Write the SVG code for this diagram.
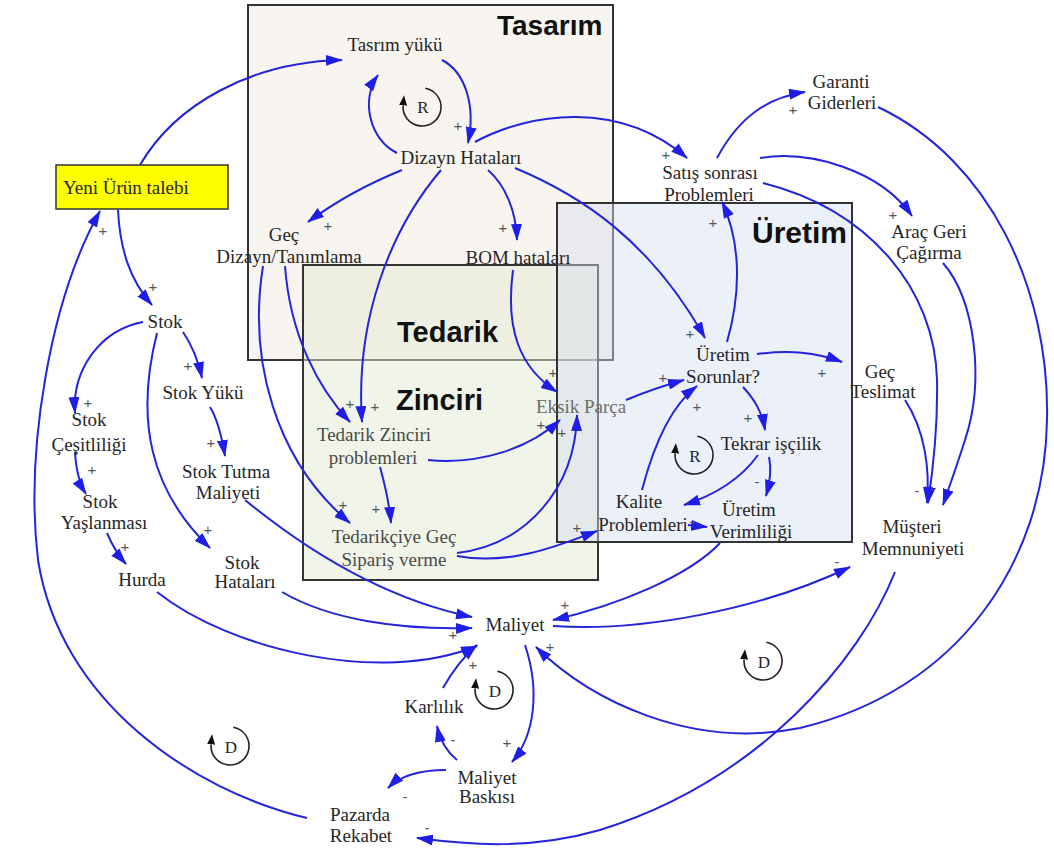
<svg xmlns="http://www.w3.org/2000/svg" width="1054" height="852" viewBox="0 0 1054 852">
  <defs>
    <style>
      .region { stroke: #333; stroke-width: 2; }
      .title { font-family: "Liberation Sans", Arial, sans-serif; font-weight: bold; fill: #111; }
      .node { font-family: "Liberation Serif", "Times New Roman", serif; font-size: 19px; fill: #262626; text-anchor: middle; }
      .node.supply { fill: #4a4a4a; }
      .node.faint { fill: #6e6e6e; }
      .link { fill: none; stroke: #2424dc; stroke-width: 2; marker-end: url(#arrow); }
      .sign { font-family: "Liberation Sans", Arial, sans-serif; font-size: 15px; fill: #555; text-anchor: middle; }
      .loop { fill: none; stroke: #222; stroke-width: 1.6; marker-end: url(#loopArrow); }
      .loopLabel { font-family: "Liberation Serif", "Times New Roman", serif; font-size: 17px; fill: #222; text-anchor: middle; }
    </style>
    <marker id="arrow" markerUnits="userSpaceOnUse" markerWidth="17" markerHeight="11" refX="16" refY="5.5" orient="auto">
      <path d="M0,0 L17,5.5 L0,11 z" fill="#1e1ee6"/>
    </marker>
    <marker id="loopArrow" markerUnits="userSpaceOnUse" markerWidth="10" markerHeight="8" refX="0" refY="4" orient="auto">
      <path d="M0,0 L10,4 L0,8 z" fill="#111"/>
    </marker>
  </defs>

  <!-- functional regions -->
  <g id="regions">
    <rect class="region" x="248" y="5" width="365" height="355" fill="#f8f5f1"/>
    <rect class="region" x="303" y="265" width="295" height="315" fill="rgb(228,234,210)" fill-opacity="0.5"/>
    <rect class="region" x="557" y="203" width="295" height="339" fill="rgb(212,222,240)" fill-opacity="0.45"/>
    <text class="title" x="497" y="35" font-size="28">Tasarım</text>
    <text class="title" x="397" y="342" font-size="29">Tedarik</text>
    <text class="title" x="396" y="410" font-size="29">Zinciri</text>
    <text class="title" x="752" y="243" font-size="30">Üretim</text>
  </g>

  <!-- causal links -->
  <g id="connectors">
    <path class="link" d="M140,165 C175,105 250,62 342,60"/>
    <path class="link" d="M442,60 C465,72 476,105 468,143"/>
    <path class="link" d="M397,153 C370,140 360,100 378,75"/>
    <path class="link" d="M402,170 C365,185 335,202 308,222"/>
    <path class="link" d="M488,170 C505,185 516,210 517,240"/>
    <path class="link" d="M441,170 C390,230 355,320 362,422"/>
    <path class="link" d="M285,266 C290,335 318,388 350,422"/>
    <path class="link" d="M263,266 C248,360 275,460 350,523"/>
    <path class="link" d="M475,142 C530,112 620,100 687,158"/>
    <path class="link" d="M515,168 C580,195 650,240 705,338"/>
    <path class="link" d="M513,270 C505,330 520,368 557,392"/>
    <path class="link" d="M428,460 C480,465 530,448 560,420"/>
    <path class="link" d="M380,467 C385,485 389,500 391,523"/>
    <path class="link" d="M457,553 C525,545 575,490 577,415"/>
    <path class="link" d="M457,556 C510,566 560,545 597,531"/>
    <path class="link" d="M626,400 C645,392 662,386 684,380"/>
    <path class="link" d="M727,342 C742,290 740,240 722,202"/>
    <path class="link" d="M757,354 C790,350 815,352 842,362"/>
    <path class="link" d="M743,387 C755,400 762,412 765,430"/>
    <path class="link" d="M642,490 C655,440 672,405 697,386"/>
    <path class="link" d="M758,455 C740,480 715,495 684,505"/>
    <path class="link" d="M769,457 C772,470 770,482 766,496"/>
    <path class="link" d="M688,525 L707,527"/>
    <path class="link" d="M720,543 C690,575 620,605 553,620"/>
    <path class="link" d="M553,626 C640,632 760,610 850,567"/>
    <path class="link" d="M878,107 C990,160 1050,290 1047,420 C1045,560 960,690 800,728 C690,750 590,700 536,647"/>
    <path class="link" d="M895,572 C860,660 760,780 600,830 C530,850 470,845 417,838"/>
    <path class="link" d="M307,818 C190,790 60,700 38,560 C25,450 50,300 100,211"/>
    <path class="link" d="M118,210 C120,250 130,280 152,305"/>
    <path class="link" d="M183,332 C192,345 198,360 202,378"/>
    <path class="link" d="M143,322 C100,330 72,370 75,413"/>
    <path class="link" d="M157,333 C135,420 150,490 210,548"/>
    <path class="link" d="M210,407 C218,420 222,438 225,456"/>
    <path class="link" d="M75,452 C76,470 79,483 86,494"/>
    <path class="link" d="M107,533 C112,545 118,555 126,564"/>
    <path class="link" d="M157,592 C230,650 380,685 477,646"/>
    <path class="link" d="M282,592 C330,620 400,630 472,628"/>
    <path class="link" d="M245,500 C300,545 380,598 472,617"/>
    <path class="link" d="M443,688 C452,672 463,657 477,645"/>
    <path class="link" d="M525,645 C540,690 535,735 512,762"/>
    <path class="link" d="M457,760 C447,752 440,740 437,726"/>
    <path class="link" d="M446,770 C420,770 400,776 388,788"/>
    <path class="link" d="M717,158 C740,115 770,97 805,92"/>
    <path class="link" d="M760,158 C810,150 880,170 912,216"/>
    <path class="link" d="M763,183 C870,210 935,290 937,380 C938,430 933,470 928,503"/>
    <path class="link" d="M905,400 C925,430 930,470 927,503"/>
    <path class="link" d="M943,263 C975,300 985,380 965,440 C957,465 950,485 943,505"/>
  </g>

  <!-- link polarities -->
  <g id="polarities">
    <text class="sign" x="458" y="131">+</text>
    <text class="sign" x="328" y="231">+</text>
    <text class="sign" x="503" y="233">+</text>
    <text class="sign" x="666" y="160">+</text>
    <text class="sign" x="713" y="228">+</text>
    <text class="sign" x="690" y="339">+</text>
    <text class="sign" x="793" y="115">+</text>
    <text class="sign" x="893" y="220">+</text>
    <text class="sign" x="350" y="409">+</text>
    <text class="sign" x="375" y="412">+</text>
    <text class="sign" x="553" y="378">+</text>
    <text class="sign" x="541" y="430">+</text>
    <text class="sign" x="562" y="438">+</text>
    <text class="sign" x="343" y="510">+</text>
    <text class="sign" x="376" y="514">+</text>
    <text class="sign" x="577" y="533">+</text>
    <text class="sign" x="663" y="383">+</text>
    <text class="sign" x="822" y="378">+</text>
    <text class="sign" x="697" y="412">+</text>
    <text class="sign" x="748" y="423">+</text>
    <text class="sign" x="757" y="487">-</text>
    <text class="sign" x="692" y="527">-</text>
    <text class="sign" x="103" y="236">+</text>
    <text class="sign" x="153" y="292">+</text>
    <text class="sign" x="188" y="371">+</text>
    <text class="sign" x="88" y="408">+</text>
    <text class="sign" x="211" y="448">+</text>
    <text class="sign" x="92" y="475">+</text>
    <text class="sign" x="125" y="552">+</text>
    <text class="sign" x="208" y="535">+</text>
    <text class="sign" x="453" y="640">+</text>
    <text class="sign" x="473" y="670">+</text>
    <text class="sign" x="453" y="745">-</text>
    <text class="sign" x="507" y="748">+</text>
    <text class="sign" x="405" y="802">-</text>
    <text class="sign" x="427" y="833">-</text>
    <text class="sign" x="565" y="610">+</text>
    <text class="sign" x="550" y="652" fill="#5555dd">+</text>
    <text class="sign" x="837" y="567">-</text>
    <text class="sign" x="917" y="496" font-size="18">-</text>
    <text class="sign" x="933" y="494" font-size="18">-</text>
  </g>

  <!-- loop identifiers -->
  <g id="loops">
    <g id="loop-r1">
      <path class="loop" d="M425.3,88.3 A19,19 0 1 1 403.1,105.3"/>
      <text class="loopLabel" x="423" y="113">R</text>
    </g>
    <g id="loop-r2">
      <path class="loop" d="M697.3,436.3 A19,19 0 1 1 675.1,453.3"/>
      <text class="loopLabel" x="695" y="462">R</text>
    </g>
    <g id="loop-d1">
      <path class="loop" d="M497.3,671.3 A19,19 0 1 1 475.1,688.3"/>
      <text class="loopLabel" x="495" y="697">D</text>
    </g>
    <g id="loop-d2">
      <path class="loop" d="M233.3,727.3 A19,19 0 1 1 211.1,744.3"/>
      <text class="loopLabel" x="231" y="753">D</text>
    </g>
    <g id="loop-d3">
      <path class="loop" d="M766.3,642.3 A19,19 0 1 1 744.1,659.3"/>
      <text class="loopLabel" x="764" y="668">D</text>
    </g>
  </g>

  <!-- variables -->
  <g id="n-yeni-urun-talebi">
    <rect x="56" y="165" width="172" height="44" fill="#ffff00" stroke="#333" stroke-width="1.5"/>
    <text class="node" x="63" y="194" style="text-anchor:start">Yeni Ürün talebi</text>
  </g>
  <g id="n-tasrim-yuku"><text class="node" x="395" y="51">Tasrım yükü</text></g>
  <g id="n-dizayn-hatalari"><text class="node" x="461" y="164">Dizayn Hataları</text></g>
  <g id="n-gec-dizayn"><text class="node"><tspan x="284" y="241">Geç</tspan><tspan x="289" y="263">Dizayn/Tanımlama</tspan></text></g>
  <g id="n-bom-hatalari"><text class="node" x="518" y="264">BOM hataları</text></g>
  <g id="n-satis-sonrasi"><text class="node"><tspan x="710" y="179">Satış sonrası</tspan><tspan x="709" y="201">Problemleri</tspan></text></g>
  <g id="n-garanti"><text class="node"><tspan x="841" y="88">Garanti</tspan><tspan x="842" y="109">Giderleri</tspan></text></g>
  <g id="n-arac-geri"><text class="node"><tspan x="929" y="238">Araç Geri</tspan><tspan x="929" y="259">Çağırma</tspan></text></g>
  <g id="n-uretim-sorunlar"><text class="node"><tspan x="723" y="361">Üretim</tspan><tspan x="723" y="383">Sorunlar?</tspan></text></g>
  <g id="n-gec-teslimat"><text class="node"><tspan x="880" y="378">Geç</tspan><tspan x="883" y="398">Teslimat</tspan></text></g>
  <g id="n-eksik-parca"><text class="node faint" x="581" y="413">Eksik Parça</text></g>
  <g id="n-tekrar-iscilik"><text class="node" x="771" y="450">Tekrar işçilik</text></g>
  <g id="n-kalite"><text class="node"><tspan x="639" y="508">Kalite</tspan><tspan x="643" y="531">Problemleri</tspan></text></g>
  <g id="n-uretim-verim"><text class="node"><tspan x="749" y="516">Üretim</tspan><tspan x="751" y="538">Verimliliği</tspan></text></g>
  <g id="n-tedarik-zinciri"><text class="node supply"><tspan x="374" y="441">Tedarik Zinciri</tspan><tspan x="373" y="464">problemleri</tspan></text></g>
  <g id="n-tedarikciye"><text class="node supply"><tspan x="394" y="543">Tedarikçiye Geç</tspan><tspan x="394" y="566">Sipariş verme</tspan></text></g>
  <g id="n-stok"><text class="node" x="165" y="328">Stok</text></g>
  <g id="n-stok-yuku"><text class="node" x="203" y="399">Stok Yükü</text></g>
  <g id="n-stok-cesit"><text class="node"><tspan x="89" y="426">Stok</tspan><tspan x="89" y="451">Çeşitliliği</tspan></text></g>
  <g id="n-stok-tutma"><text class="node"><tspan x="226" y="478">Stok Tutma</tspan><tspan x="228" y="499">Maliyeti</tspan></text></g>
  <g id="n-stok-yas"><text class="node"><tspan x="100" y="508">Stok</tspan><tspan x="104" y="529">Yaşlanması</tspan></text></g>
  <g id="n-hurda"><text class="node" x="142" y="586">Hurda</text></g>
  <g id="n-stok-hatalari"><text class="node"><tspan x="242" y="569">Stok</tspan><tspan x="245" y="588">Hataları</tspan></text></g>
  <g id="n-maliyet"><text class="node" x="515" y="631">Maliyet</text></g>
  <g id="n-karlilik"><text class="node" x="434" y="713">Karlılık</text></g>
  <g id="n-maliyet-baskisi"><text class="node"><tspan x="487" y="784">Maliyet</tspan><tspan x="487" y="803">Baskısı</tspan></text></g>
  <g id="n-pazarda-rekabet"><text class="node"><tspan x="360" y="821">Pazarda</tspan><tspan x="361" y="842">Rekabet</tspan></text></g>
  <g id="n-musteri"><text class="node"><tspan x="912" y="533">Müşteri</tspan><tspan x="913" y="555">Memnuniyeti</tspan></text></g>
</svg>
